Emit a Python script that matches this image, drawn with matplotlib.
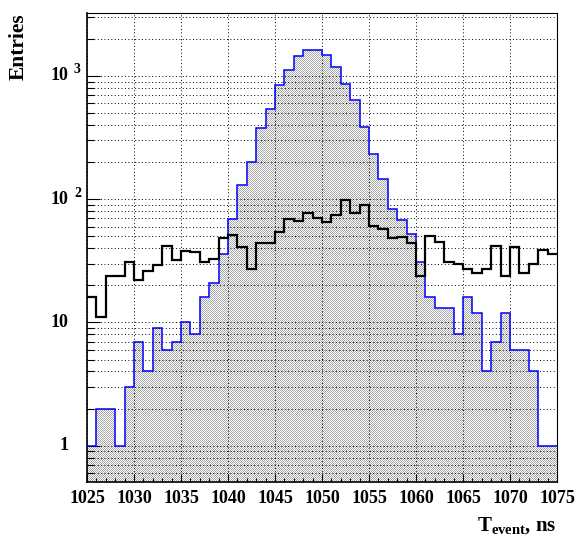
import numpy as np
import matplotlib.pyplot as plt
import matplotlib.transforms as mtransforms
from matplotlib.ticker import MultipleLocator, FixedLocator, LogLocator, NullFormatter

plt.rcParams['font.family'] = ['Liberation Serif', 'DejaVu Serif']
plt.rcParams['font.weight'] = 'bold'
plt.rcParams['mathtext.fontset'] = 'custom'
plt.rcParams['mathtext.rm'] = 'Liberation Serif:bold'
plt.rcParams['mathtext.default'] = 'rm'

# --- event time histograms, 1 ns bins from 1025 to 1075 ---
bin_edges = np.arange(1025, 1076)
blue_counts = [1, 2, 2, 1, 3, 7, 4, 9, 6, 7,
               10, 8, 16, 21, 36, 69, 130, 200, 380, 537,
               847, 1120, 1456, 1630, 1630, 1483, 1192, 858, 640, 388,
               233, 145, 84, 68, 52, 31, 16, 13, 13, 8,
               16, 12, 4, 7, 12, 6, 6, 4, 1, 1]
black_counts = [16, 11, 24, 24, 31, 22, 26, 29, 42, 32,
                38, 37, 31, 33, 48, 51, 41, 27, 44, 44,
                54, 69, 67, 78, 71, 65, 75, 98, 78, 90,
                61, 57, 48, 49, 44, 24, 50, 45, 31, 30,
                27, 25, 27, 42, 24, 41, 25, 30, 39, 36]
decade_ticks = [1, 10, 100, 1000]
y_range = (0.507, 3245)

fig = plt.figure(figsize=(5.77, 5.37), dpi=100)
ax = fig.add_axes([87 / 577, 55 / 537, 470 / 577, 469 / 537])

# shaded area under the blue histogram: fine dot pattern clipped to the steps
fill = ax.stairs(blue_counts, bin_edges, baseline=y_range[0], fill=True,
                 facecolor='none', edgecolor='none')
ii, jj = np.indices((469, 470))
pattern = np.where((ii + jj) % 2 == 0, 0.66, 1.0)
im = ax.imshow(pattern, cmap='gray', vmin=0, vmax=1, extent=(0, 1, 0, 1),
               transform=ax.transAxes, interpolation='nearest', aspect='auto',
               zorder=1)
im.set_clip_path(fill)

ax.stairs(blue_counts, bin_edges, baseline=None, color='#0000ff', lw=1.1, zorder=4)
ax.stairs(black_counts, bin_edges, baseline=None, color='black', lw=1.6, zorder=5)

ax.set_yscale('log')
ax.set_xlim(1025, 1075)
ax.set_ylim(*y_range)

ax.xaxis.set_major_locator(MultipleLocator(5))
ax.xaxis.set_minor_locator(MultipleLocator(1))
ax.yaxis.set_major_locator(FixedLocator(decade_ticks))
ax.yaxis.set_minor_locator(LogLocator(base=10, subs=np.arange(2, 10), numticks=20))
ax.yaxis.set_major_formatter(NullFormatter())
ax.yaxis.set_minor_formatter(NullFormatter())

ax.set_axisbelow(False)
grid_style = dict(color='black', lw=0.7, ls=(0, (1, 2.5)))
ax.grid(True, which='major', axis='x', **grid_style)
ax.grid(True, which='both', axis='y', **grid_style)

ax.tick_params(which='both', direction='in', top=False, right=False)
ax.tick_params(axis='x', which='major', length=6, width=0.8, labelsize=13, pad=6)
ax.tick_params(axis='x', which='minor', length=3, width=0.8)
ax.tick_params(axis='y', which='major', length=9, width=0.8)
ax.tick_params(axis='y', which='minor', length=5, width=0.8)

for side in ('left', 'bottom'):
    ax.spines[side].set_linewidth(1.2)
for side in ('top', 'right'):
    ax.spines[side].set_linewidth(0.8)

# y labels in the "10 ^n" style
lab_tr = ax.get_yaxis_transform()
exp_tr = mtransforms.offset_copy(lab_tr, fig=fig, y=6, units='dots')
for v in decade_ticks:
    n = int(round(np.log10(v)))
    if n < 2:
        ax.text(-0.0394, v, str(v), transform=lab_tr, ha='right', va='center',
                fontsize=13)
    else:
        ax.text(-0.0394, v, '10', transform=lab_tr, ha='right', va='center',
                fontsize=13)
        ax.text(-0.0277, v, str(n), transform=exp_tr, ha='left', va='center',
                fontsize=10)

fig.text(19 / 577, 1 - 13 / 537, 'Entries', rotation=90, ha='center', va='top',
         fontsize=15.5)
fig.text(557 / 577, 1 - 531 / 537, r'$T_{event}$, ns', ha='right', va='baseline',
         fontsize=15)

fig.savefig('out.png', dpi=100)
